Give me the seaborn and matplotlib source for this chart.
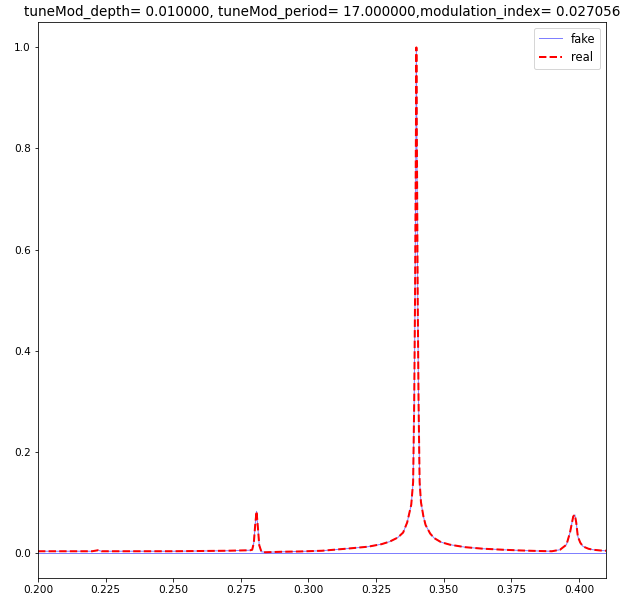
import matplotlib
matplotlib.use("Agg")
import matplotlib.pyplot as plt
import seaborn as sns
import numpy as np

# Normalised spectrum of the modulated signal (frequency, amplitude)
freq = [0.200, 0.210, 0.220, 0.2222, 0.2235, 0.230, 0.250, 0.270, 0.2785,
        0.2792, 0.2798, 0.2803, 0.2808, 0.2813, 0.2818, 0.2826, 0.2840,
        0.290, 0.297, 0.305, 0.315, 0.322, 0.327, 0.330, 0.333, 0.3350,
        0.3365, 0.3380, 0.3387, 0.3391, 0.3394, 0.3397, 0.3399, 0.3401,
        0.3404, 0.3407, 0.3411, 0.3416, 0.3425, 0.3433, 0.3450, 0.3465,
        0.3490, 0.3523, 0.3580, 0.3646, 0.3720, 0.3782, 0.3850, 0.3900,
        0.3930, 0.3954, 0.3967, 0.3979, 0.3985, 0.3990, 0.3996, 0.4005,
        0.4015, 0.4035, 0.4052, 0.4080, 0.4100]
real_amp = [0.003, 0.003, 0.003, 0.005, 0.003, 0.003, 0.003, 0.004, 0.005,
            0.006, 0.020, 0.055, 0.082, 0.050, 0.015, 0.002, 0.001,
            0.002, 0.0026, 0.004, 0.0085, 0.012, 0.017, 0.022, 0.030, 0.040,
            0.060, 0.095, 0.140, 0.300, 0.500, 0.800, 1.000, 0.800,
            0.500, 0.300, 0.140, 0.100, 0.072, 0.055, 0.038, 0.029,
            0.021, 0.016, 0.011, 0.008, 0.006, 0.0046, 0.0035, 0.003,
            0.006, 0.016, 0.040, 0.072, 0.075, 0.060, 0.032, 0.020,
            0.0125, 0.008, 0.006, 0.0045, 0.004]
fake_amp = list(real_amp)

# Flat zero floor of the fake series
floor_freq = [0.200, 0.410]
floor_amp = [0.0, 0.0]

title = ("tuneMod_depth= 0.010000, tuneMod_period= 17.000000,"
         "modulation_index= 0.027056")

DPI = 72
fig = plt.figure(figsize=(621 / DPI, 599 / DPI), dpi=DPI)
ax = fig.add_axes([0.0612, 0.035, 0.9146, 0.928])

sns.lineplot(x=floor_freq, y=floor_amp, ax=ax, color="b", alpha=0.5,
             linewidth=1, estimator=None, legend=False)
sns.lineplot(x=freq, y=fake_amp, ax=ax, color="b", alpha=0.5, linewidth=1,
             estimator=None, label="fake")
sns.lineplot(x=freq, y=real_amp, ax=ax, color="r", linestyle="--",
             linewidth=2, estimator=None, label="real")

ax.set_xlim(0.2, 0.41)
ax.set_ylim(-0.05, 1.05)
ax.set_xticks(np.arange(0.2, 0.4001, 0.025))
ax.set_yticks([0.0, 0.2, 0.4, 0.6, 0.8, 1.0])
ax.xaxis.set_major_formatter(matplotlib.ticker.FormatStrFormatter("%.3f"))
ax.yaxis.set_major_formatter(matplotlib.ticker.FormatStrFormatter("%.1f"))
ax.tick_params(labelsize=10.5)
ax.set_title(title, fontsize=13.5)
ax.legend(loc="upper right", fontsize=11.5)

fig.savefig("out.png", dpi=DPI)
